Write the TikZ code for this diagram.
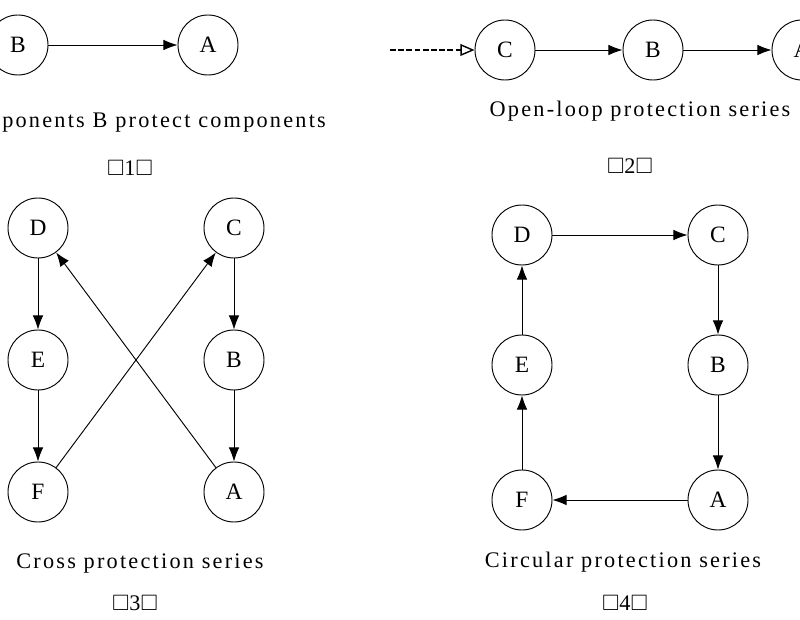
\documentclass[tikz,border=0pt]{standalone}
\usepackage{amssymb}
\usepackage{fontspec}
\setmainfont{Liberation Serif}
\newfontfamily\wide[LetterSpace=10]{Liberation Serif}
\usetikzlibrary{arrows.meta}
\begin{document}
\begin{tikzpicture}[x=0.03cm,y=-0.03cm,
  st/.style={circle,draw,thick,minimum size=1.8cm,inner sep=0pt,font=\fontsize{20}{22}\selectfont},
  lb/.style={font=\wide\fontsize{19}{22}\selectfont},
  ar/.style={thick,-{Latex[length=12pt,width=9pt]}}]
\clip (0,0) rectangle (800,620);
% (1)
\node[st] (b1) at (18,45) {B};
\node[st] (a1) at (208,45) {A};
\draw[ar] (b1) -- (a1);
\node[lb,anchor=east] at (330,123) {Components B protect components};
\node[lb] at (130,168) {$\square$1$\square$};
% (2)
\node[st] (c2) at (505,50) {C};
\node[st] (b2) at (653,50) {B};
\node[st] (a2) at (802,50) {A};
\coordinate (s2) at (390,50);
\draw[semithick,line width=1.2pt,dash pattern=on 5pt off 2pt,-{Triangle[open,length=12pt,width=10pt]}] (s2) -- (c2);
\draw[ar] (c2) -- (b2);
\draw[ar] (b2) -- (a2);
\node[lb] at (640,111) {Open-loop protection series};
\node[lb] at (630,166) {$\square$2$\square$};
% (3)
\node[st] (d3) at (38,228) {D};
\node[st] (c3) at (234,228) {C};
\node[st] (e3) at (38,360) {E};
\node[st] (b3) at (234,360) {B};
\node[st] (f3) at (38,492) {F};
\node[st] (a3) at (234,492) {A};
\draw[ar] (d3) -- (e3);
\draw[ar] (e3) -- (f3);
\draw[ar] (c3) -- (b3);
\draw[ar] (b3) -- (a3);
\draw[ar] (f3) -- (c3);
\draw[ar] (a3) -- (d3);
\node[lb] at (140,563) {Cross protection series};
\node[lb] at (135,603) {$\square$3$\square$};
% (4)
\node[st] (d4) at (522,235) {D};
\node[st] (c4) at (718,235) {C};
\node[st] (e4) at (522,365) {E};
\node[st] (b4) at (718,365) {B};
\node[st] (f4) at (522,500) {F};
\node[st] (a4) at (718,500) {A};
\draw[ar] (d4) -- (c4);
\draw[ar] (c4) -- (b4);
\draw[ar] (b4) -- (a4);
\draw[ar] (a4) -- (f4);
\draw[ar] (f4) -- (e4);
\draw[ar] (e4) -- (d4);
\node[lb] at (623,562) {Circular protection series};
\node[lb] at (625,603) {$\square$4$\square$};
\end{tikzpicture}
\end{document}
